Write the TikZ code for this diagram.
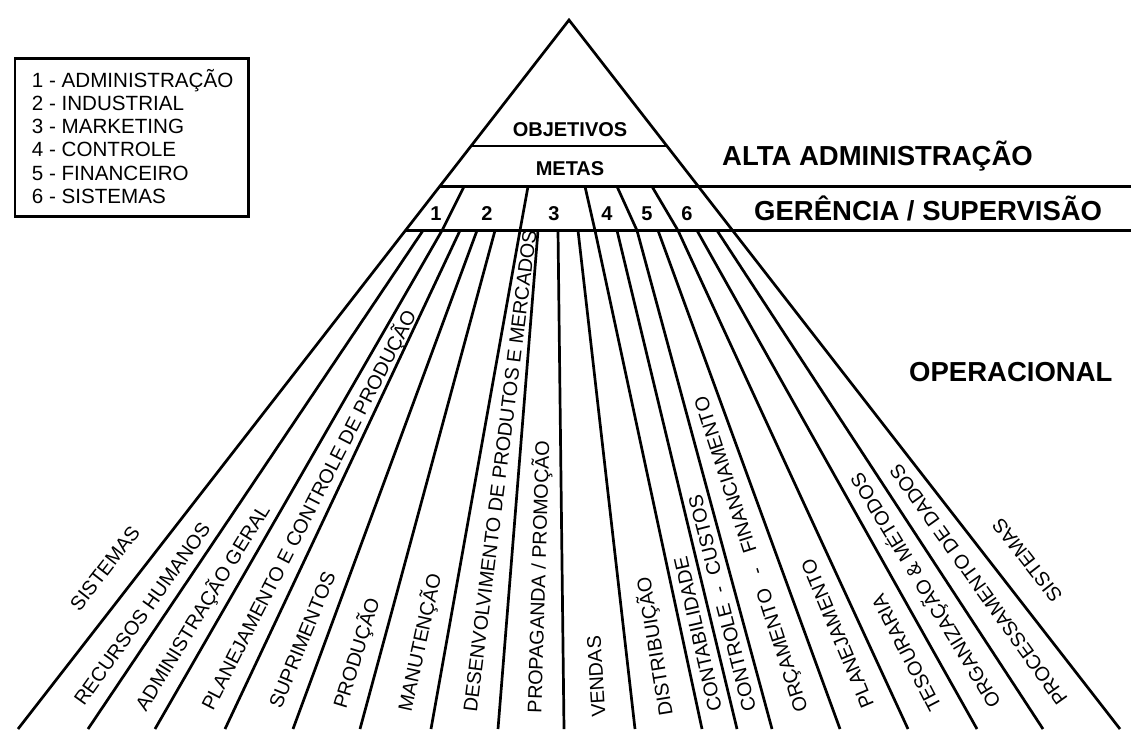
\documentclass[tikz,border=0pt]{standalone}
\usepackage{fontspec}
\setmainfont{Liberation Sans}
\usetikzlibrary{calc}
\begin{document}
\begin{tikzpicture}[x=1pt,y=-1pt,
  ln/.style={line width=2.7pt},
  labbase/.style={font=\fontsize{19.8}{22}\selectfont, inner sep=0pt, anchor=west},
  lab/.style={labbase, sloped, allow upside down},
  head/.style={font=\bfseries\fontsize{27.5}{30}\selectfont, inner sep=0pt, anchor=base west},
  tri/.style={font=\bfseries\fontsize{20}{24}\selectfont, inner sep=0pt, anchor=base},
  leg/.style={font=\fontsize{20.6}{24}\selectfont, inner sep=0pt, anchor=base west}]
\fill[white] (0,0) rectangle (1131,729);
\useasboundingbox (0,0) rectangle (1131,729);
% key points
\coordinate (apex) at (569,20);
\coordinate (B1) at (18,729);
\coordinate (B2) at (88,729);
\coordinate (B3) at (155,729);
\coordinate (B4) at (225,729);
\coordinate (B5) at (293,729);
\coordinate (B6) at (360,729);
\coordinate (B7) at (431,729);
\coordinate (B8) at (498,729);
\coordinate (B9) at (564,729);
\coordinate (B10) at (635,729);
\coordinate (B11) at (702,729);
\coordinate (B12) at (737,729);
\coordinate (B13) at (772,729);
\coordinate (B14) at (840,729);
\coordinate (B15) at (908,729);
\coordinate (B16) at (977,729);
\coordinate (B17) at (1043,729);
\coordinate (B18) at (1120,729);
\coordinate (hA) at (0,146);
\coordinate (hB) at (1131,146);
\coordinate (mA) at (0,186.5);
\coordinate (mB) at (1131,186.5);
\coordinate (gA) at (0,230.5);
\coordinate (gB) at (1131,230.5);
\coordinate (O1) at (intersection of apex--B1 and hA--hB);
\coordinate (O2) at (intersection of apex--B18 and hA--hB);
\coordinate (M1) at (intersection of apex--B1 and mA--mB);
\coordinate (T1) at (intersection of apex--B1 and gA--gB);
\coordinate (T18) at (intersection of apex--B18 and gA--gB);
\coordinate (T2) at (423,230.5);
\coordinate (T3) at (442,230.5);
\coordinate (T4) at (460,230.5);
\coordinate (T5) at (477,230.5);
\coordinate (T6) at (495,230.5);
\coordinate (T7) at (520,230.5);
\coordinate (T8) at (538,230.5);
\coordinate (T9) at (558,230.5);
\coordinate (T10) at (578,230.5);
\coordinate (T11) at (595,230.5);
\coordinate (T12) at (617,230.5);
\coordinate (T13) at (637,230.5);
\coordinate (T14) at (658,230.5);
\coordinate (T15) at (678,230.5);
\coordinate (T16) at (697,230.5);
\coordinate (T17) at (717,230.5);
\coordinate (D1) at (464,186.5);
\coordinate (D2) at (528,186.5);
\coordinate (D3) at (585,186.5);
\coordinate (D4) at (617,186.5);
\coordinate (D5) at (652,186.5);
% triangle and levels
\draw[ln] (B1) -- (apex) -- (B18);
\draw[ln] (O1) -- (O2);
\draw[ln] (M1) -- (mB);
\draw[ln] (T1) -- (gB);
% dividers of the numbered row
\draw[ln] (D1) -- (T3);
\draw[ln] (D2) -- (T7);
\draw[ln] (D3) -- (T11);
\draw[ln] (D4) -- (T13);
\draw[ln] (D5) -- (T15);
% fan
\foreach \i in {2,...,17} { \draw[ln] (T\i) -- (B\i); }
% top texts
\node[tri] (obj) at (570,136.5) {OBJETIVOS};
\node[tri] (metas) at (570,175) {METAS};
\node[tri] (n1) at (436,220) {1};
\node[tri] (n2) at (487,220) {2};
\node[tri] (n3) at (554,220) {3};
\node[tri] (n4) at (607,220) {4};
\node[tri] (n5) at (647,220) {5};
\node[tri] (n6) at (687,220) {6};
\node[head] (alta) at (722,165) {ALTA ADMINISTRAÇÃO};
\node[head] (ger) at (754,220) {GERÊNCIA / SUPERVISÃO};
\node[head] (oper) at (909,381.5) {OPERACIONAL};
% legend
\draw[line width=2.8pt] (15,58.3) rectangle (248.3,216.7);
\node[leg] (g1) at (31.7,87.3) {1 - ADMINISTRAÇÃO};
\node[leg] (g2) at (31.7,110.5) {2 - INDUSTRIAL};
\node[leg] (g3) at (31.7,133.7) {3 - MARKETING};
\node[leg] (g4) at (31.7,156.9) {4 - CONTROLE};
\node[leg] (g5) at (31.7,180.1) {5 - FINANCEIRO};
\node[leg] (g6) at (31.7,203.3) {6 - SISTEMAS};
% fan labels
\node[labbase, rotate=52.15] (sl) at (74,608) {SISTEMAS};
\node[labbase, rotate=127.85] (sr) at (1058,600) {SISTEMAS};
\path ($(B1)!.6!(B2)$) -- ($(T1)!.6!(T2)$) node[lab,pos=.052] (l1) {RECURSOS HUMANOS};
\path ($(B2)!.6!(B3)$) -- ($(T2)!.6!(T3)$) node[lab,pos=.040] (l2) {ADMINISTRAÇÃO GERAL};
\path ($(B3)!.6!(B4)$) -- ($(T3)!.6!(T4)$) node[lab,pos=.040] (l3) {PLANEJAMENTO E CONTROLE DE PRODUÇÃO};
\path ($(B4)!.6!(B5)$) -- ($(T4)!.6!(T5)$) node[lab,pos=.044] (l4) {SUPRIMENTOS};
\path ($(B5)!.6!(B6)$) -- ($(T5)!.6!(T6)$) node[lab,pos=.042] (l5) {PRODUÇÃO};
\path ($(B6)!.58!(B7)$) -- ($(T6)!.58!(T7)$) node[lab,pos=.035] (l6) {MANUTENÇÃO};
\path ($(B7)!.55!(B8)$) -- ($(T7)!.55!(T8)$) node[lab,pos=.034] (l7) {DESENVOLVIMENTO DE PRODUTOS E MERCADOS};
\path ($(B8)!.55!(B9)$) -- ($(T8)!.55!(T9)$) node[lab,pos=.032] (l8) {PROPAGANDA / PROMOÇÃO};
\path ($(B9)!.5!(B10)$) -- ($(T9)!.5!(T10)$) node[lab,pos=.023] (l9) {VENDAS};
\path ($(B10)!.5!(B11)$) -- ($(T10)!.5!(T11)$) node[lab,pos=.026] (l10) {DISTRIBUIÇÃO};
\path ($(B11)!.5!(B12)$) -- ($(T11)!.5!(T12)$) node[lab,pos=.035] (l11) {CONTABILIDADE};
\path ($(B12)!.5!(B13)$) -- ($(T12)!.5!(T13)$) node[lab,pos=.036] (l12) {CONTROLE\hspace{0.6em}-\hspace{0.6em}CUSTOS};
\path ($(B13)!.55!(B14)$) -- ($(T13)!.55!(T14)$) node[lab,pos=.036] (l13) {ORÇAMENTO\hspace{0.8em}-\hspace{0.8em}FINANCIAMENTO};
\path ($(B14)!.55!(B15)$) -- ($(T14)!.55!(T15)$) node[lab,pos=.044] (l14) {PLANEJAMENTO};
\path ($(B15)!.55!(B16)$) -- ($(T15)!.55!(T16)$) node[lab,pos=.038] (l15) {TESOURARIA};
\path ($(B16)!.5!(B17)$) -- ($(T16)!.5!(T17)$) node[lab,pos=.046] (l16) {ORGANIZAÇÃO \& MÉTODOS};
\path ($(B17)!.5!(B18)$) -- ($(T17)!.5!(T18)$) node[lab,pos=.052] (l17) {PROCESSAMENTO DE DADOS};
\end{tikzpicture}
\end{document}
